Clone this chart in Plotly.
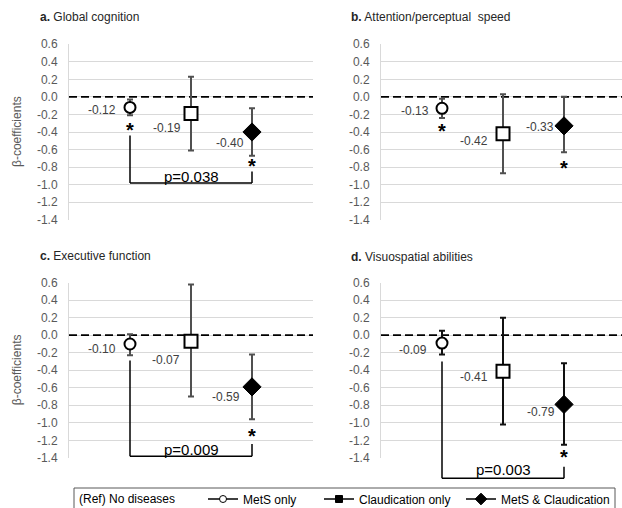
import plotly.graph_objects as go

# ---------------- data ----------------
groups = ["MetS only", "Claudication only", "MetS & Claudication"]
group_x = [1, 2, 3]

panel_letters = ["a.", "b.", "c.", "d."]
panel_titles = ["Global cognition", "Attention/perceptual\u00a0 speed",
                "Executive function", "Visuospatial abilities"]

beta_a = [-0.12, -0.19, -0.40]
lower_a = [-0.21, -0.61, -0.67]
upper_a = [-0.03, 0.23, -0.13]

beta_b = [-0.13, -0.42, -0.33]
lower_b = [-0.24, -0.87, -0.63]
upper_b = [-0.02, 0.03, 0.00]

beta_c = [-0.10, -0.07, -0.59]
lower_c = [-0.23, -0.70, -0.96]
upper_c = [0.01, 0.58, -0.22]

beta_d = [-0.09, -0.41, -0.79]
lower_d = [-0.22, -1.02, -1.25]
upper_d = [0.05, 0.20, -0.32]

# significance vs reference (asterisks)
signif_a = [True, False, True]
signif_b = [True, False, True]
signif_c = [False, False, True]
signif_d = [False, False, True]

# p-value for MetS only vs MetS & Claudication
p_values = ["p=0.038", None, "p=0.009", "p=0.003"]

y_tick_vals = [0.6, 0.4, 0.2, 0.0, -0.2, -0.4, -0.6, -0.8, -1.0, -1.2, -1.4]
y_tick_text = ["0.6", "0.4", "0.2", "0.0", "-0.2", "-0.4", "-0.6", "-0.8", "-1.0", "-1.2", "-1.4"]
y_title = "β-coefficients"
ref_label = "(Ref) No diseases"

# ---------------- style / layout ----------------
W, H = 622, 508
FONT = "Liberation Sans, Arial, sans-serif"
Y_RANGE = [-1.4, 0.6]

def px_x(p):
    return p / W

def px_y(p):
    return 1 - p / H

# plot-area pixel boxes: (left, right, top(0.6), bottom(-1.4))
boxes = [(69, 313, 44, 220), (381, 622, 44, 220), (69, 313, 282.5, 458), (381, 622, 282.5, 458)]
x_ranges = [[0, 4], [0, (622 - 381) / 61], [0, 4], [0, (622 - 381) / 61]]

markers = [
    dict(symbol="circle", size=11, color="white", line=dict(color="black", width=2)),
    dict(symbol="square", size=13, color="white", line=dict(color="black", width=2)),
    dict(symbol="diamond", size=14, color="black", line=dict(color="black", width=1)),
]
err_colors = ["#505050", "#505050", "#505050", "#111111"]

# data-label offsets (px: dx, dy-down) per panel / group
label_offsets = [
    [(-12, 3), (-8, 14), (-6, 11)],
    [(-11, 3), (-13, 7), (-8, 1)],
    [(-12, 5), (-9, 19), (-10, 10)],
    [(-13, 7), (-13, 6), (-7, 8)],
]
# asterisk positions (value-axis) per panel / group
star_y = [
    [-0.38, None, -0.79],
    [-0.39, None, -0.81],
    [None, None, -1.15],
    [None, None, -1.39],
]
# bracket: (left leg top, bottom, right leg top, p text center)
brackets = [
    (-0.44, -0.98, -0.85, -0.90),
    None,
    (-0.29, -1.38, -1.24, -1.30),
    (-0.30, -1.63, -1.50, -1.53),
]

betas = [beta_a, beta_b, beta_c, beta_d]
lowers = [lower_a, lower_b, lower_c, lower_d]
uppers = [upper_a, upper_b, upper_c, upper_d]
signifs = [signif_a, signif_b, signif_c, signif_d]

fig = go.Figure()
layout = dict(
    width=W, height=H,
    margin=dict(l=0, r=0, t=0, b=0, autoexpand=False),
    paper_bgcolor="white", plot_bgcolor="white",
    font=dict(family=FONT, size=12, color="#404040"),
    showlegend=True,
)
shapes = []
annotations = []

def ydom(v):
    return (v - Y_RANGE[0]) / (Y_RANGE[1] - Y_RANGE[0])

for i in range(4):
    n = "" if i == 0 else str(i + 1)
    xa, ya = "x" + n, "y" + n
    l, r, t, b = boxes[i]
    layout["xaxis" + n] = dict(
        domain=[px_x(l), px_x(r)], range=x_ranges[i], anchor=ya,
        showgrid=False, showticklabels=False, zeroline=False, showline=False,
        ticks="", fixedrange=True,
    )
    layout["yaxis" + n] = dict(
        domain=[px_y(b), px_y(t)], range=[Y_RANGE[0] - 0.002, Y_RANGE[1] + 0.002], anchor=xa,
        tickmode="array", tickvals=y_tick_vals, ticktext=y_tick_text,
        showgrid=True, gridcolor="#d9d9d9", gridwidth=1,
        showline=True, linecolor="#d9d9d9", linewidth=1,
        zeroline=False, ticks="outside", ticklen=8, tickcolor="rgba(0,0,0,0)",
        tickfont=dict(family=FONT, size=12, color="#595959"), fixedrange=True,
    )

    # dashed reference line at 0 (drawn first, below markers)
    fig.add_trace(go.Scatter(
        x=x_ranges[i], y=[0, 0], mode="lines", xaxis=xa, yaxis=ya,
        line=dict(color="black", width=1.75, dash="8px,4px"),
        showlegend=False, hoverinfo="skip",
    ))

    for g in range(3):
        beta = betas[i][g]
        fig.add_trace(go.Scatter(
            x=[group_x[g]], y=[beta], mode="markers", xaxis=xa, yaxis=ya,
            marker=markers[g], showlegend=False, hoverinfo="skip",
            error_y=dict(type="data", symmetric=False,
                         array=[uppers[i][g] - beta], arrayminus=[beta - lowers[i][g]],
                         color=err_colors[i], thickness=2, width=3),
        ))
        dx, dy = label_offsets[i][g]
        annotations.append(dict(
            x=group_x[g], y=beta, xref=xa, yref=ya, text=f"{beta:.2f}",
            showarrow=False, xanchor="right", yanchor="middle",
            xshift=dx, yshift=-dy, font=dict(family=FONT, size=12, color="#404040"),
        ))
        if signifs[i][g] and star_y[i][g] is not None:
            annotations.append(dict(
                x=group_x[g], y=star_y[i][g], xref=xa, yref=ya, text="<b>*</b>",
                showarrow=False, xanchor="center", yanchor="middle", yshift=0,
                font=dict(family=FONT, size=20, color="black"),
            ))

    # bracket + p-value
    if brackets[i] is not None:
        lt, bot, rt, ty = brackets[i]
        x_left, x_right = group_x[0], group_x[2]
        bl = dict(color="black", width=1.5)
        ydr = ya + " domain"
        shapes.append(dict(type="line", xref=xa, yref=ydr, x0=x_left, x1=x_left,
                           y0=ydom(lt), y1=ydom(bot), line=bl, layer="above"))
        shapes.append(dict(type="line", xref=xa, yref=ydr, x0=x_left, x1=x_right,
                           y0=ydom(bot), y1=ydom(bot), line=bl, layer="above"))
        shapes.append(dict(type="line", xref=xa, yref=ydr, x0=x_right, x1=x_right,
                           y0=ydom(bot), y1=ydom(rt), line=bl, layer="above"))
        annotations.append(dict(
            x=group_x[1], y=ydom(ty), xref=xa, yref=ydr, text=p_values[i],
            showarrow=False, xanchor="center", yanchor="middle",
            font=dict(family=FONT, size=15, color="black"),
        ))

    # panel title
    title_pos = [(38, 17), (349, 17), (38, 256), (349, 257)][i]
    annotations.append(dict(
        x=px_x(title_pos[0]), y=px_y(title_pos[1]), xref="paper", yref="paper",
        text=f"<b>{panel_letters[i]}</b> {panel_titles[i]}", showarrow=False,
        xanchor="left", yanchor="middle", font=dict(family=FONT, size=12, color="#262626"),
    ))

# y-axis titles (left column)
for i in (0, 2):
    l, r, t, b = boxes[i]
    annotations.append(dict(
        x=px_x(17), y=px_y((t + b) / 2), xref="paper", yref="paper", text=y_title,
        textangle=-90, showarrow=False, xanchor="center", yanchor="middle",
        font=dict(family=FONT, size=12, color="#595959"),
    ))

# legend entries (separate legends to reproduce spacing)
legend_markers = [
    dict(symbol="circle", size=7, color="white", line=dict(color="black", width=1)),
    dict(symbol="square", size=7, color="black", line=dict(color="black", width=1)),
    dict(symbol="diamond", size=9, color="black", line=dict(color="black", width=1)),
]
legend_names = ["legend", "legend2", "legend3"]
legend_left_px = [203, 319, 461]
for g in range(3):
    fig.add_trace(go.Scatter(
        x=[None], y=[None], mode="lines+markers", name=groups[g],
        line=dict(color="black", width=1.5), marker=legend_markers[g],
        legend=legend_names[g], showlegend=True, hoverinfo="skip",
    ))
    layout[legend_names[g]] = dict(
        x=px_x(legend_left_px[g]), xanchor="left",
        y=px_y(499), yanchor="middle", orientation="h",
        bgcolor="rgba(0,0,0,0)", borderwidth=0,
        font=dict(family=FONT, size=12, color="black"),
    )

annotations.append(dict(
    x=px_x(77), y=px_y(499), xref="paper", yref="paper", text=ref_label,
    showarrow=False, xanchor="left", yanchor="middle",
    font=dict(family=FONT, size=12, color="black"),
))
shapes.append(dict(type="rect", xref="paper", yref="paper",
                   x0=px_x(74), x1=px_x(615), y0=px_y(512), y1=px_y(488),
                   line=dict(color="#595959", width=1), fillcolor="rgba(0,0,0,0)", layer="above"))

layout["shapes"] = shapes
layout["annotations"] = annotations
fig.update_layout(**layout)
fig.write_html("out.html", config={"displayModeBar": False},
               post_script="document.body.style.margin='0';document.body.style.overflow='hidden';")
